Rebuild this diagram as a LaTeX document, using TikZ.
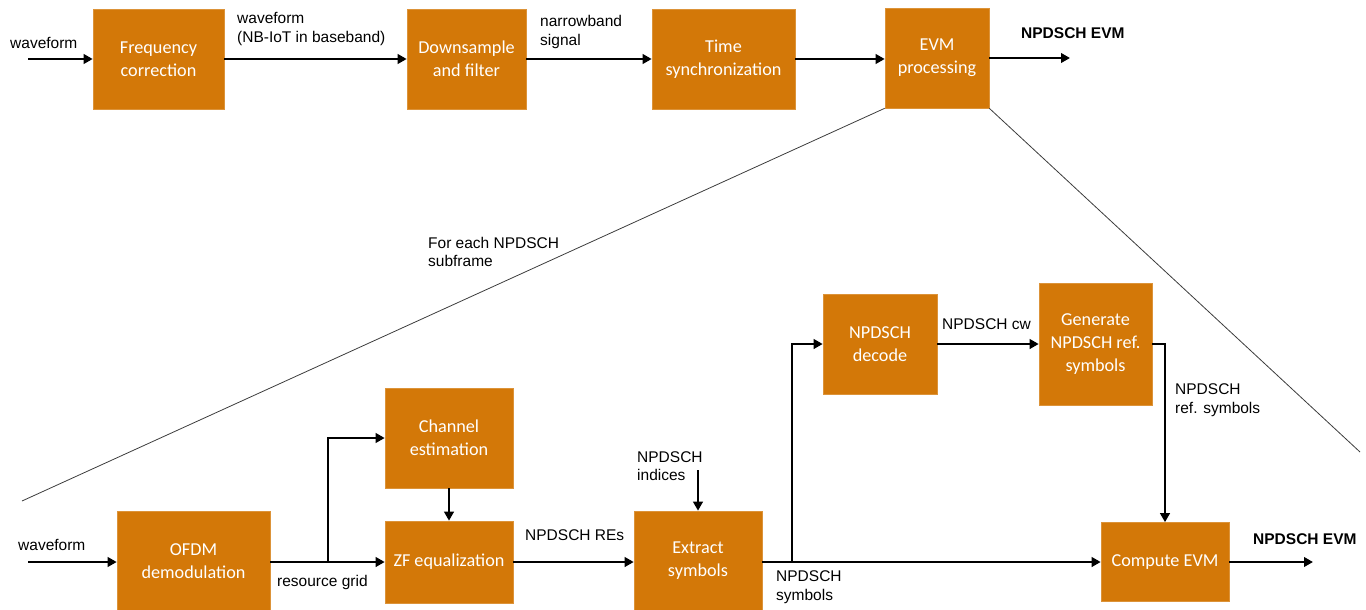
\documentclass[tikz,border=0pt]{standalone}
\usepackage{fontspec}
\setmainfont{Liberation Sans}
\newfontfamily\boxfont{Carlito}
\usetikzlibrary{arrows.meta}
\definecolor{boxorange}{RGB}{211,120,8}
\definecolor{thinline}{RGB}{60,60,60}
\tikzset{
  blk/.style={fill=boxorange, draw=boxorange!80!white, line width=0.6pt, text=white, align=center,
    font=\boxfont\fontsize{18.2}{23}\selectfont, inner sep=0pt},
  lbl/.style={anchor=west, inner sep=0pt, align=left, font=\fontsize{15.5}{18.5}\selectfont},
  blbl/.style={lbl, font=\bfseries\fontsize{15.5}{18.5}\selectfont},
  arr/.style={line width=2.6pt, -{Triangle[length=9pt,width=9.5pt]}},
  thin/.style={line width=0.8pt, draw=thinline}
}
\begin{document}
\begin{tikzpicture}[x=1pt,y=-1pt]
\useasboundingbox (0,0) rectangle (1366,610);
% top row
\node[blk, minimum width=131pt, minimum height=100pt] (fc) at (158.5,59) {Frequency\\correction};
\node[blk, minimum width=119pt, minimum height=100pt] (ds) at (466.5,59) {Downsample\\and filter};
\node[blk, minimum width=143pt, minimum height=100pt] (ts) at (723.5,59) {Time\\synchronization};
\node[blk, minimum width=104pt, minimum height=100pt] (evm) at (937,58) {EVM\\processing};
\coordinate (in1) at (28,59);
\coordinate (out1) at (1070,58);
\draw[arr] (in1) -- (fc.west);
\draw[arr] (fc.east) -- (ds.west);
\draw[arr] (ds.east) -- (ts.west);
\draw[arr] (ts.east) -- (ts.east -| evm.west);
\draw[arr] (evm.east) -- (out1);
\node[lbl] (l1) at (10,43) {waveform};
\node[lbl] (l2) at (237,29) {waveform\\(NB-IoT in baseband)};
\node[lbl] (l3) at (540,32) {narrowband\\signal};
\node[blbl] (l4) at (1021,33) {NPDSCH EVM};
% zoom lines
\coordinate (zl) at (22,501);
\coordinate (zr) at (1360,452);
\draw[thin] (evm.south west) -- (zl);
\draw[thin] (evm.south east) -- (zr);
\node[lbl] (l5) at (428,252) {For each NPDSCH\\subframe};
% bottom row
\node[blk, minimum width=153pt, minimum height=100pt] (ofdm) at (193.5,561) {OFDM\\demodulation};
\node[blk, minimum width=128pt, minimum height=100pt] (ce) at (449,438) {Channel\\estimation};
\node[blk, minimum width=128pt, minimum height=82pt] (zf) at (449,562) {ZF equalization};
\node[blk, minimum width=128pt, minimum height=100pt] (ex) at (698,561) {Extract\\symbols};
\node[blk, minimum width=114pt, minimum height=100pt] (dec) at (880,344) {NPDSCH\\decode};
\node[blk, minimum width=113pt, minimum height=122pt] (gen) at (1095.5,344) {Generate\\NPDSCH ref.\\symbols};
\node[blk, minimum width=128pt, minimum height=79pt] (cevm) at (1165,562) {Compute EVM};
\coordinate (in2) at (28,562);
\coordinate (b1) at (328,562);
\coordinate (b2) at (792,562);
\coordinate (idx) at (698,470);
\coordinate (out2) at (1313,562);
\draw[arr] (in2) -- (in2 -| ofdm.west);
\draw[arr] (ofdm.east |- zf.west) -- (zf.west);
\draw[arr] (b1) |- (ce.west);
\draw[arr] (ce.south) -- (zf.north);
\draw[arr] (zf.east) -- (zf.east -| ex.west);
\draw[arr] (idx) -- (ex.north);
\draw[arr] (ex.east |- cevm.west) -- (cevm.west);
\draw[arr] (b2) |- (dec.west);
\draw[arr] (dec.east) -- (gen.west);
\draw[arr] (gen.east) -| (cevm.north);
\draw[arr] (cevm.east) -- (out2);
\node[lbl] (m1) at (18,545) {waveform};
\node[lbl] (m2) at (277,582) {resource grid};
\node[lbl] (m3) at (525,535) {NPDSCH REs};
\node[lbl] (m4) at (637,466) {NPDSCH\\indices};
\node[lbl] (m5) at (776,587) {NPDSCH\\symbols};
\node[lbl] (m6) at (942,324) {NPDSCH cw};
\node[lbl] (m7) at (1175,400) {NPDSCH\\ref. symbols};
\node[blbl] (m8) at (1253,539) {NPDSCH EVM};
\end{tikzpicture}
\end{document}
